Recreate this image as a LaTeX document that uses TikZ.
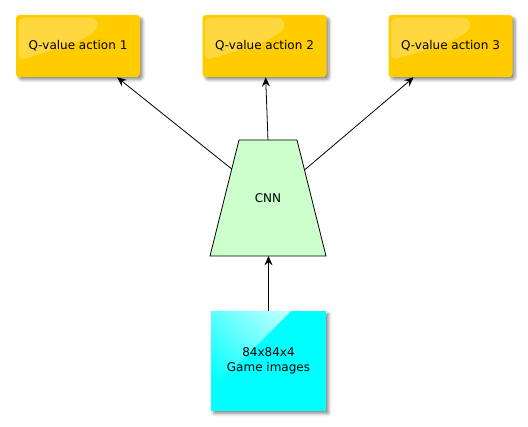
\documentclass[tikz,border=0pt]{standalone}
\usepackage{fontspec}
\setmainfont{DejaVu Sans}
\usetikzlibrary{arrows.meta,shadows.blur,calc}

\tikzset{
  qbox/.style={draw=none, fill={rgb,255:red,255;green,204;blue,0}, rounded corners=2.5pt,
    minimum width=93pt, minimum height=46.5pt, inner sep=0.75pt,
    blur shadow={shadow xshift=2pt, shadow yshift=-2pt, shadow blur steps=6, shadow opacity=45},
    path picture={\fill[white, fill opacity=0.25, rounded corners=4pt]
      ($(path picture bounding box.north west)+(2pt,-2pt)$) -- ($(path picture bounding box.north west)+(60pt,-2pt)$)
      .. controls ($(path picture bounding box.north west)+(64pt,-16pt)$) and ($(path picture bounding box.north west)+(36pt,-24pt)$)
      .. ($(path picture bounding box.north west)+(2pt,-34pt)$) -- cycle;}},
  cnnshape/.style={draw, line width=0.6pt, fill={rgb,255:red,204;green,255;blue,204}},
  imgbox/.style={draw=none, fill={rgb,255:red,0;green,255;blue,255},
    minimum width=86.25pt, minimum height=75pt, inner sep=0.75pt, align=center,
    blur shadow={shadow xshift=2pt, shadow yshift=-2pt, shadow blur steps=6, shadow opacity=45},
    path picture={\shade[left color=white!80!cyan, right color=cyan, shading angle=-45]
      (path picture bounding box.north west) -- ($(path picture bounding box.north west)+(60pt,0)$)
      -- ($(path picture bounding box.north west)+(0,-60pt)$) -- cycle;}},
  flow/.style={-{Stealth[length=7pt,width=6pt,inset=2.5pt]}, line width=0.6pt}
}

\begin{document}
\begin{tikzpicture}[x=0.75pt,y=0.75pt,yscale=-1,xscale=1,font=\fontsize{9}{11}\selectfont]
\useasboundingbox (0,0) rectangle (528,427);

% Output nodes
\node [qbox] (qone) at (78,46) {Q-value action 1};
\node [qbox] (qtwo) at (264.5,46) {Q-value action 2};
\node [qbox] (qthree) at (450.5,46) {Q-value action 3};

% Network
\draw [cnnshape] (239,140) -- (297,140) -- (326,256) -- (210,256) -- cycle;
\node (cnn) at (268,198) {CNN};
\coordinate (cnntop) at (268,140);
\coordinate (cnnleft) at (231.75,169);
\coordinate (cnnright) at (304.5,170);
\coordinate (cnnbottom) at (268.5,256);

% Input
\node [imgbox] (img) at (268.5,361) {84x84x4\\Game images};

% Arrows
\draw [flow] (img) -- (cnnbottom);
\draw [flow] (cnnleft) -- (qone);
\draw [flow] (cnntop) -- (qtwo);
\draw [flow] (cnnright) -- (qthree);

\end{tikzpicture}
\end{document}
